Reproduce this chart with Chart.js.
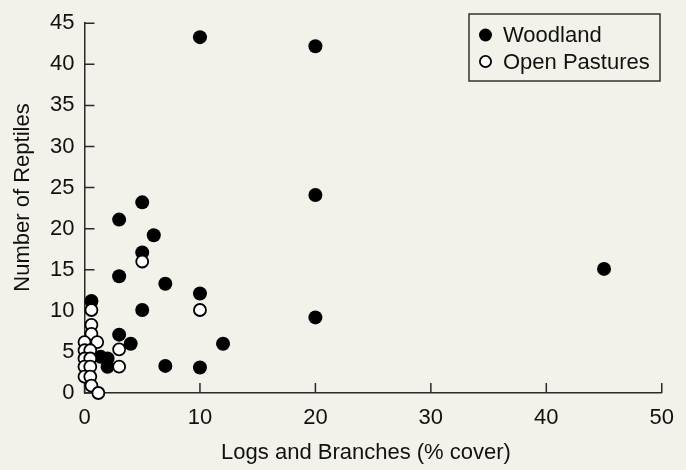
<!DOCTYPE html>
<html>
<head>
<meta charset="utf-8">
<script src="https://cdn.jsdelivr.net/npm/chart.js@4/dist/chart.umd.min.js"></script>
<style>
  html, body { margin: 0; padding: 0; background: #f2f1ea; }
  #wrap { width: 686px; height: 470px; position: relative; }
</style>
</head>
<body>
<div id="wrap"><canvas id="c" width="686" height="470"></canvas></div>
<script>
// ---- Data ----
const xTicks = [0, 10, 20, 30, 40, 50];
const yTicks = [0, 5, 10, 15, 20, 25, 30, 35, 40, 45];

const woodlandX = [10, 20, 20, 5, 3, 6, 5, 3, 7, 10, 0.6, 5, 20, 3, 4, 12, 1.4, 2, 2, 7, 10, 45];
const woodlandY = [43.3, 42.2, 24.1, 23.2, 21.1, 19.2, 17.1, 14.2, 13.3, 12.1, 11.2, 10.1, 9.2, 7.1, 6.0, 6.0, 4.4, 4.2, 3.2, 3.3, 3.1, 15.1];

const pastureX = [5, 10, 0.6, 0.6, 0.6, 0, 1.1, 3, 3, 0, 0.5, 0, 0.5, 0, 0.5, 0, 0.5, 0.6, 1.2];
const pastureY = [16.0, 10.1, 10.1, 8.3, 7.2, 6.2, 6.2, 5.3, 3.2, 5.2, 5.2, 4.2, 4.2, 3.2, 3.2, 2.0, 2.0, 0.9, 0.0];

const seriesNames = ['Woodland', 'Open Pastures'];
const xTitle = 'Logs and Branches (% cover)';
const yTitle = 'Number of Reptiles';

const toPoints = (xs, ys) => xs.map((x, i) => ({ x: x, y: ys[i] }));

const FONT = "'Liberation Sans', Arial, sans-serif";
const FS = 22;
const TEXT = '#111111';
const AXIS = '#2a2a2a';
const BG = '#f2f1ea';

const bgPlugin = {
  id: 'bg',
  beforeDraw(chart) {
    const ctx = chart.ctx;
    ctx.save();
    ctx.fillStyle = BG;
    ctx.fillRect(0, 0, chart.width, chart.height);
    ctx.restore();
  }
};

// Inward tick marks, positioned with the chart's own scales
const innerTicks = {
  id: 'innerTicks',
  beforeDatasetsDraw(chart) {
    const { ctx, scales: { x, y } } = chart;
    ctx.save();
    ctx.strokeStyle = AXIS;
    ctx.lineWidth = 1.5;
    ctx.beginPath();
    xTicks.forEach(v => {
      const px = x.getPixelForValue(v);
      ctx.moveTo(px, y.bottom);
      ctx.lineTo(px, y.bottom - 10);
    });
    yTicks.forEach(v => {
      const py = y.getPixelForValue(v);
      ctx.moveTo(x.left, py);
      ctx.lineTo(x.left + 10, py);
    });
    ctx.stroke();
    ctx.restore();
  }
};

// Axis titles (placed as in the reference, slightly toward the origin)
const axisTitles = {
  id: 'axisTitles',
  afterDraw(chart) {
    const ctx = chart.ctx;
    ctx.save();
    ctx.fillStyle = TEXT;
    ctx.font = FS + 'px ' + FONT;
    ctx.textAlign = 'center';
    ctx.textBaseline = 'middle';
    ctx.fillText(xTitle, 366, 453);
    ctx.translate(23, 197.5);
    ctx.rotate(-Math.PI / 2);
    ctx.fillText(yTitle, 0, 0);
    ctx.restore();
  }
};

// Boxed legend in the upper right of the plot
const boxLegend = {
  id: 'boxLegend',
  afterDraw(chart) {
    const { ctx } = chart;
    const bx = 469, by = 14, bw = 191, bh = 67;
    ctx.save();
    ctx.fillStyle = BG;
    ctx.fillRect(bx, by, bw, bh);
    ctx.strokeStyle = '#333333';
    ctx.lineWidth = 1.5;
    ctx.strokeRect(bx, by, bw, bh);
    const rows = [by + 21, by + 47.5];
    chart.data.datasets.forEach((ds, i) => {
      const cy = rows[i];
      ctx.beginPath();
      ctx.arc(bx + 16.5, cy, i === 0 ? 6.5 : 5.6, 0, Math.PI * 2);
      ctx.fillStyle = ds.backgroundColor;
      ctx.fill();
      if (i === 1) { ctx.lineWidth = 1.8; ctx.strokeStyle = '#000'; ctx.stroke(); }
      ctx.fillStyle = TEXT;
      ctx.font = FS + 'px ' + FONT;
      ctx.textBaseline = 'middle';
      ctx.textAlign = 'left';
      ctx.fillText(ds.label, bx + 34, cy + 1);
    });
    ctx.restore();
  }
};

new Chart(document.getElementById('c'), {
  type: 'scatter',
  data: {
    datasets: [
      {
        label: seriesNames[0],
        data: toPoints(woodlandX, woodlandY),
        backgroundColor: '#000000',
        borderColor: '#000000',
        borderWidth: 0,
        pointRadius: 7,
        pointHoverRadius: 7,
        order: 2,
        clip: false
      },
      {
        label: seriesNames[1],
        data: toPoints(pastureX, pastureY),
        backgroundColor: '#ffffff',
        borderColor: '#000000',
        borderWidth: 1.8,
        pointRadius: 6,
        pointHoverRadius: 6,
        order: 1,
        clip: false
      }
    ]
  },
  options: {
    responsive: false,
    animation: false,
    events: [],
    layout: { padding: { top: 19, right: 24, left: 0, bottom: 0 } },
    plugins: {
      legend: { display: false },
      tooltip: { enabled: false }
    },
    scales: {
      x: {
        type: 'linear',
        min: 0, max: 50,
        afterBuildTicks(scale) { scale.ticks = xTicks.map(v => ({ value: v })); },
        afterFit(scale) { scale.height = 77; },
        grid: { display: false, drawTicks: false },
        border: { display: true, color: AXIS, width: 1.5 },
        ticks: { color: TEXT, font: { family: FONT, size: FS }, padding: 12, maxRotation: 0 },
        title: { display: false, text: xTitle }
      },
      y: {
        type: 'linear',
        min: 0, max: 45,
        afterBuildTicks(scale) { scale.ticks = yTicks.map(v => ({ value: v })); },
        afterFit(scale) { scale.width = 84.5; },
        grid: { display: false, drawTicks: false },
        border: { display: true, color: AXIS, width: 1.5 },
        ticks: { color: TEXT, font: { family: FONT, size: FS }, padding: 10 },
        title: { display: false, text: yTitle }
      }
    }
  },
  plugins: [bgPlugin, innerTicks, axisTitles, boxLegend]
});
</script>
</body>
</html>
